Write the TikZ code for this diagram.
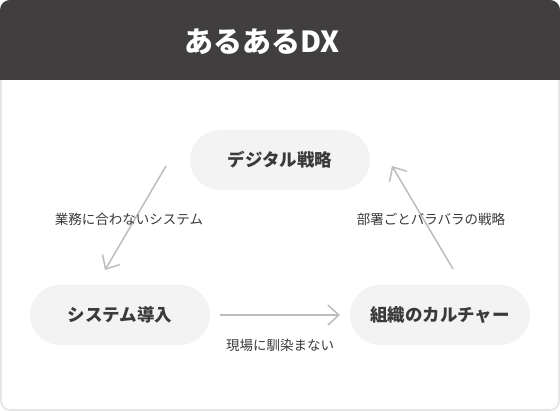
\documentclass[tikz,border=0pt]{standalone}
\usepackage{fontspec}
\setmainfont{Noto Sans CJK JP}
\usetikzlibrary{arrows.meta}
\definecolor{hdr}{HTML}{403E3F}
\definecolor{brd}{HTML}{E6E6E6}
\definecolor{pill}{HTML}{F3F3F3}
\definecolor{txt}{HTML}{3A3A3A}
\definecolor{arr}{HTML}{BDBDBD}
\tikzset{
  pillnode/.style={fill=pill, rounded corners=30pt, minimum width=180pt, minimum height=60pt,
    text=txt, font=\fontsize{17.5}{20}\selectfont\bfseries, inner sep=0pt},
  lbl/.style={text=txt, font=\fontsize{13.5}{16}\selectfont, inner sep=0pt},
  flow/.style={draw=arr, line width=1.5pt, -{Straight Barb[length=11pt,width=20pt,line width=1.5pt]}}
}
\begin{document}
\begin{tikzpicture}[x=1pt,y=-1pt]
\useasboundingbox (0,0) rectangle (560,411);
\fill[brd, rounded corners=10pt] (0,0) rectangle (560,411);
\fill[white, rounded corners=8pt] (2,2) rectangle (558,409);
\fill[hdr, rounded corners=10pt] (0,0) rectangle (560,40);
\fill[hdr] (0,20) rectangle (560,80);
\node[text=white, font=\fontsize{29}{32}\selectfont\bfseries, inner sep=0pt] (title) at (262,42) {あるあるDX};
\node[pillnode] (ds) at (280,160) {デジタル戦略};
\node[pillnode] (si) at (120,315) {システム導入};
\node[pillnode] (oc) at (440,315) {組織のカルチャー};
\coordinate (a1s) at (166,166);
\coordinate (a1e) at (105,270);
\coordinate (a2s) at (453,269);
\coordinate (a2e) at (392,166);
\coordinate (a3s) at (220,315);
\coordinate (a3e) at (340,315);
\draw[flow] (a1s) -- (a1e);
\draw[flow] (a2s) -- (a2e);
\draw[flow] (a3s) -- (a3e);
\node[lbl] (l1) at (129,219) {業務に合わないシステム};
\node[lbl] (l2) at (431,219) {部署ごとバラバラの戦略};
\node[lbl] (l3) at (280,345) {現場に馴染まない};
\end{tikzpicture}
\end{document}
